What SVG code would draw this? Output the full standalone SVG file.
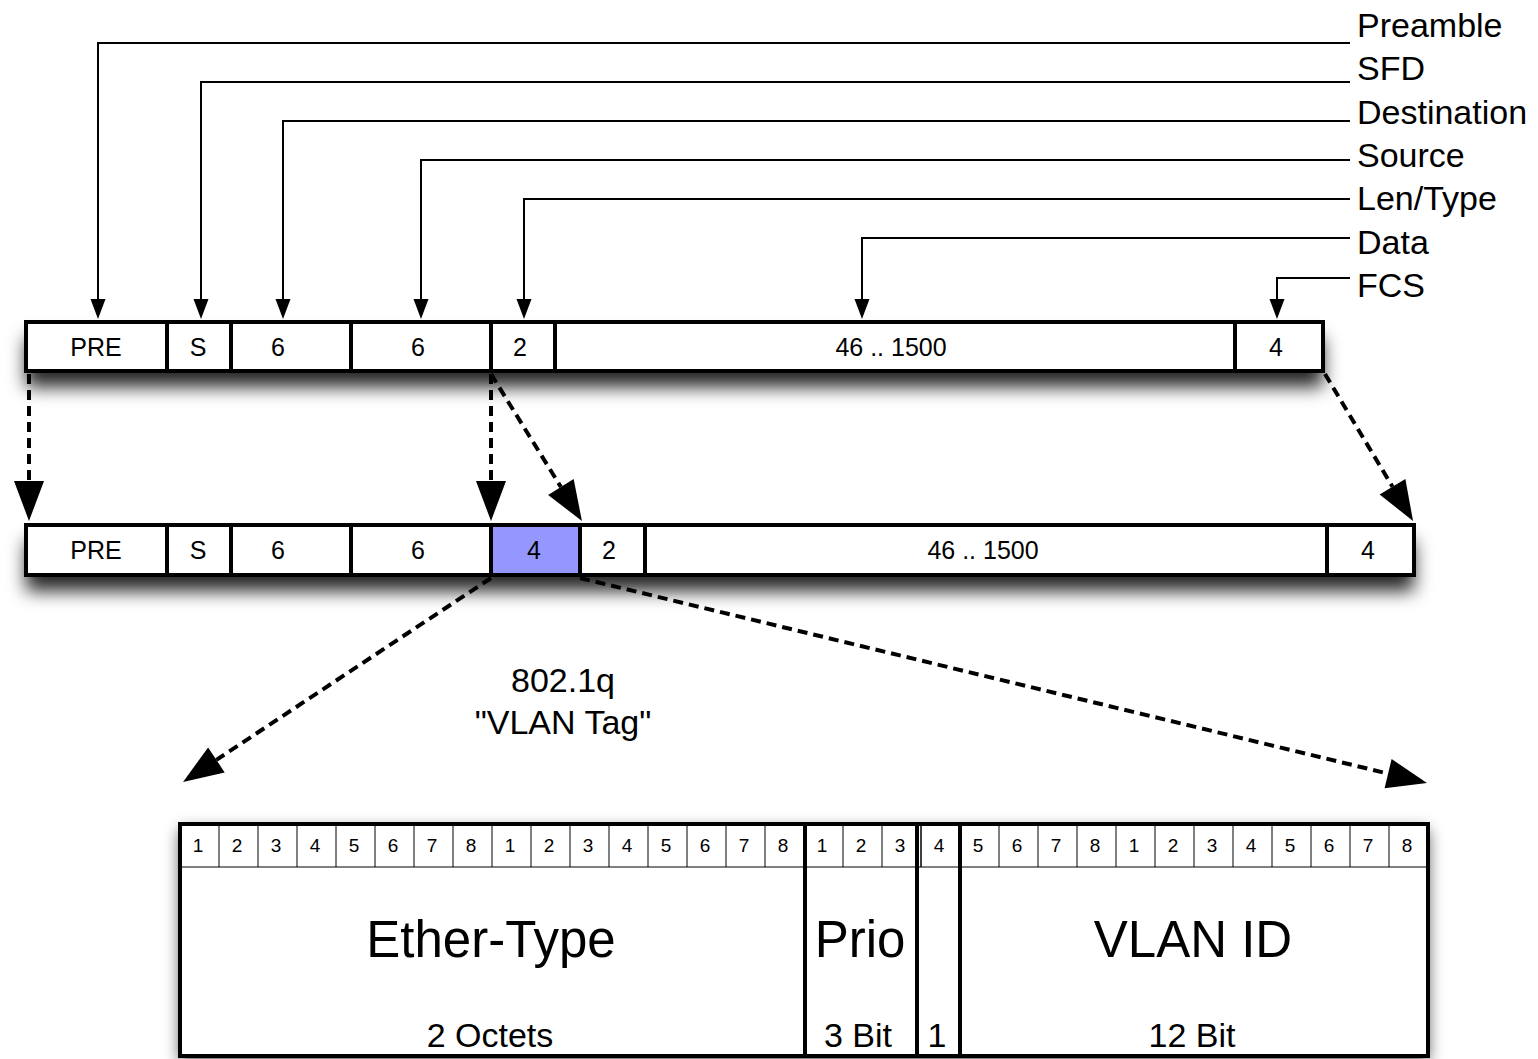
<svg xmlns="http://www.w3.org/2000/svg" width="1538" height="1059" viewBox="0 0 1538 1059">
<style>
  text { font-family: "Liberation Sans", Arial, sans-serif; fill: #000; }
  .cell { font-size: 25px; text-anchor: middle; }
  .lbl { font-size: 34px; }
  .mid { font-size: 34px; text-anchor: middle; }
  .big { font-size: 51px; text-anchor: middle; }
  .bit { font-size: 19px; text-anchor: middle; }
  .box { fill: #fff; stroke: #000; stroke-width: 4; }
  .div { stroke: #000; stroke-width: 4; fill: none; }
  .thin { stroke: #000; stroke-width: 1; fill: none; }
  .conn { stroke: #000; stroke-width: 2; fill: none; marker-end: url(#small); }
  .dash { stroke: #000; stroke-width: 4; fill: none; stroke-dasharray: 10 6; marker-end: url(#big); }
</style>
<defs>
  <filter id="shadow" x="-10%" y="-80%" width="120%" height="300%">
    <feDropShadow dx="0" dy="16" stdDeviation="9" flood-color="#000" flood-opacity="0.85"/>
  </filter>
  <filter id="shadow2" x="-10%" y="-20%" width="120%" height="140%">
    <feDropShadow dx="0" dy="6" stdDeviation="8" flood-color="#000" flood-opacity="0.7"/>
  </filter>
  <marker id="small" markerUnits="userSpaceOnUse" markerWidth="20" markerHeight="15" refX="0" refY="7.5" orient="auto" overflow="visible">
    <path d="M0,0 L20,7.5 L0,15 Z" fill="#000"/>
  </marker>
  <marker id="big" markerUnits="userSpaceOnUse" markerWidth="40" markerHeight="30" refX="0" refY="15" orient="auto" overflow="visible">
    <path d="M0,0 L40,15 L0,30 Z" fill="#000"/>
  </marker>
</defs>
<rect width="1538" height="1059" fill="#fff"/>

<!-- Top frame -->
<g id="frame1">
  <rect x="26" y="322" width="1297" height="49" fill="#fff" filter="url(#shadow)"/>
  <rect class="box" x="26" y="322" width="1297" height="49"/>
  <g id="f1-pre"><text class="cell" x="96" y="356">PRE</text></g>
  <g id="f1-sfd"><line class="div" x1="167" y1="322" x2="167" y2="371"/><text class="cell" x="198" y="356">S</text></g>
  <g id="f1-dst"><line class="div" x1="231" y1="322" x2="231" y2="371"/><text class="cell" x="278" y="356">6</text></g>
  <g id="f1-src"><line class="div" x1="351" y1="322" x2="351" y2="371"/><text class="cell" x="418" y="356">6</text></g>
  <g id="f1-len"><line class="div" x1="491" y1="322" x2="491" y2="371"/><text class="cell" x="520" y="356">2</text></g>
  <g id="f1-data"><line class="div" x1="555" y1="322" x2="555" y2="371"/><text class="cell" x="891" y="356">46 .. 1500</text></g>
  <g id="f1-fcs"><line class="div" x1="1235" y1="322" x2="1235" y2="371"/><text class="cell" x="1276" y="356">4</text></g>
</g>

<!-- Second frame -->
<g id="frame2">
  <rect x="26" y="525" width="1388" height="50" fill="#fff" filter="url(#shadow)"/>
  <rect x="491" y="525" width="89" height="50" fill="#9597FF"/>
  <rect class="box" x="26" y="525" width="1388" height="50" style="fill:none"/>
  <g id="f2-pre"><text class="cell" x="96" y="559">PRE</text></g>
  <g id="f2-sfd"><line class="div" x1="167" y1="525" x2="167" y2="575"/><text class="cell" x="198" y="559">S</text></g>
  <g id="f2-dst"><line class="div" x1="231" y1="525" x2="231" y2="575"/><text class="cell" x="278" y="559">6</text></g>
  <g id="f2-src"><line class="div" x1="351" y1="525" x2="351" y2="575"/><text class="cell" x="418" y="559">6</text></g>
  <g id="f2-tag"><line class="div" x1="491" y1="525" x2="491" y2="575"/><text class="cell" x="534" y="559">4</text></g>
  <g id="f2-len"><line class="div" x1="580" y1="525" x2="580" y2="575"/><text class="cell" x="609" y="559">2</text></g>
  <g id="f2-data"><line class="div" x1="645" y1="525" x2="645" y2="575"/><text class="cell" x="983" y="559">46 .. 1500</text></g>
  <g id="f2-fcs"><line class="div" x1="1327" y1="525" x2="1327" y2="575"/><text class="cell" x="1368" y="559">4</text></g>
</g>

<!-- Field labels -->
<g id="labels">
  <text class="lbl" x="1357" y="37">Preamble</text>
  <text class="lbl" x="1357" y="80">SFD</text>
  <text class="lbl" x="1357" y="124">Destination</text>
  <text class="lbl" x="1357" y="167">Source</text>
  <text class="lbl" x="1357" y="210">Len/Type</text>
  <text class="lbl" x="1357" y="254">Data</text>
  <text class="lbl" x="1357" y="297">FCS</text>
</g>

<g id="tag-label">
  <text class="mid" x="563" y="692">802.1q</text>
  <text class="mid" x="563" y="734">"VLAN Tag"</text>
</g>

<!-- VLAN tag table -->
<g id="vlan-tag">
  <rect x="180" y="824" width="1248" height="232" fill="#fff" filter="url(#shadow2)"/>
  <rect class="box" x="180" y="824" width="1248" height="232"/>
  <line class="thin" x1="180" y1="867" x2="1428" y2="867"/>
  <g id="bit-grid">
    <path class="thin" d="M219,824V867 M258,824V867 M297,824V867 M336,824V867 M375,824V867 M414,824V867 M453,824V867 M492,824V867 M531,824V867 M570,824V867 M609,824V867 M648,824V867 M687,824V867 M726,824V867 M765,824V867 M843,824V867 M882,824V867 M921,824V867 M999,824V867 M1038,824V867 M1077,824V867 M1116,824V867 M1155,824V867 M1194,824V867 M1233,824V867 M1272,824V867 M1311,824V867 M1350,824V867 M1389,824V867"/>
  </g>
  <g id="bits">
    <text class="bit" x="198" y="852">1</text>
    <text class="bit" x="237" y="852">2</text>
    <text class="bit" x="276" y="852">3</text>
    <text class="bit" x="315" y="852">4</text>
    <text class="bit" x="354" y="852">5</text>
    <text class="bit" x="393" y="852">6</text>
    <text class="bit" x="432" y="852">7</text>
    <text class="bit" x="471" y="852">8</text>
    <text class="bit" x="510" y="852">1</text>
    <text class="bit" x="549" y="852">2</text>
    <text class="bit" x="588" y="852">3</text>
    <text class="bit" x="627" y="852">4</text>
    <text class="bit" x="666" y="852">5</text>
    <text class="bit" x="705" y="852">6</text>
    <text class="bit" x="744" y="852">7</text>
    <text class="bit" x="783" y="852">8</text>
    <text class="bit" x="822" y="852">1</text>
    <text class="bit" x="861" y="852">2</text>
    <text class="bit" x="900" y="852">3</text>
    <text class="bit" x="939" y="852">4</text>
    <text class="bit" x="978" y="852">5</text>
    <text class="bit" x="1017" y="852">6</text>
    <text class="bit" x="1056" y="852">7</text>
    <text class="bit" x="1095" y="852">8</text>
    <text class="bit" x="1134" y="852">1</text>
    <text class="bit" x="1173" y="852">2</text>
    <text class="bit" x="1212" y="852">3</text>
    <text class="bit" x="1251" y="852">4</text>
    <text class="bit" x="1290" y="852">5</text>
    <text class="bit" x="1329" y="852">6</text>
    <text class="bit" x="1368" y="852">7</text>
    <text class="bit" x="1407" y="852">8</text>
  </g>
  <g id="ether-type">
    <text class="big" x="491" y="957">Ether-Type</text>
    <text class="mid" x="490" y="1047">2 Octets</text>
  </g>
  <g id="prio">
    <line class="div" x1="805" y1="824" x2="805" y2="1056"/>
    <text class="big" x="860" y="957">Prio</text>
    <text class="mid" x="858" y="1047">3 Bit</text>
  </g>
  <g id="cfi">
    <line class="div" x1="917" y1="824" x2="917" y2="1056"/>
    <line class="thin" x1="921" y1="824" x2="921" y2="867"/>
    <text class="mid" x="937" y="1047">1</text>
  </g>
  <g id="vlan-id">
    <line class="div" x1="960" y1="824" x2="960" y2="1056"/>
    <text class="big" x="1193" y="957">VLAN ID</text>
    <text class="mid" x="1192" y="1047">12 Bit</text>
  </g>
</g>

<!-- Connectors -->
<g id="connectors">
  <path class="conn" d="M1350,43 H98 V299"/>
  <path class="conn" d="M1350,82 H201 V299"/>
  <path class="conn" d="M1350,121 H283 V299"/>
  <path class="conn" d="M1350,160 H421 V299"/>
  <path class="conn" d="M1350,199 H524 V299"/>
  <path class="conn" d="M1350,238 H862 V299"/>
  <path class="conn" d="M1350,278 H1277 V299"/>

  <path class="dash" d="M29,374 L29,481"/>
  <path class="dash" d="M491,374 L491,481"/>
  <path class="dash" d="M491,374 L560.9,487"/>
  <path class="dash" d="M1325,374 L1392.5,486.7"/>
  <path class="dash" d="M491,578 L216.4,759.9"/>
  <path class="dash" d="M580,578 L1388.1,773.6"/>
</g>
</svg>
